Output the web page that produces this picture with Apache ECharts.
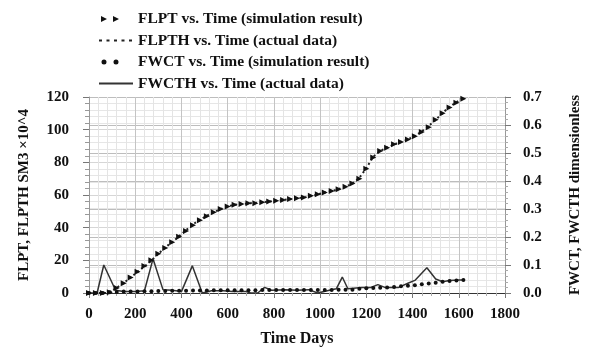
<!DOCTYPE html>
<html>
<head>
<meta charset="utf-8">
<script src="https://cdn.jsdelivr.net/npm/echarts@6/dist/echarts.min.js"></script>
<style>
  html, body { margin: 0; padding: 0; background: #fff; }
  #chart { width: 591px; height: 352px; }
</style>
</head>
<body>
<div id="chart"></div>
<script>
// simulation / actual cumulative liquid production (x10^4 SM3), left axis
const flptDays = [0, 30, 60, 90, 120, 150, 180, 210, 240, 270, 300, 330, 360, 390, 420, 450, 480, 510, 540, 570,
  600, 630, 660, 690, 720, 750, 780, 810, 840, 870, 900, 930, 960, 990, 1020, 1050, 1080, 1110, 1140, 1170,
  1200, 1230, 1260, 1290, 1320, 1350, 1380, 1410, 1440, 1470, 1500, 1530, 1560, 1590, 1620];
const flptValues = [0, 0, 0, 0.5, 3, 6, 9.5, 13, 16.5, 20, 24, 27.5, 31, 34.5, 38, 41.5, 44.5, 47, 49.5, 51.5,
  53, 54, 54.5, 55, 55, 55.5, 56, 56.5, 57, 57.5, 58, 58.5, 59.5, 60.5, 61.5, 62.5, 63.5, 65, 67, 70,
  76, 83, 87, 89, 91, 92.5, 94, 96, 98.5, 101.5, 106, 110, 113.5, 116.5, 119];
const flpthDays = [0, 40, 80, 100, 140, 180, 220, 260, 300, 340, 380, 420, 460, 500, 540, 580, 620, 660, 700, 740,
  780, 820, 860, 900, 940, 980, 1020, 1060, 1100, 1140, 1170, 1200, 1230, 1260, 1300, 1340, 1380, 1420, 1460,
  1500, 1540, 1580, 1620];
const flpthValues = [0, 0, 0, 1.5, 5, 9.5, 14, 18.5, 24, 29, 33.5, 38.5, 43, 46.5, 49.5, 52, 53.8, 54.5, 55, 55.3,
  56, 56.6, 57.3, 58, 58.8, 60, 61.5, 62.8, 64.5, 67, 70.5, 76.5, 83.5, 87, 89.8, 92, 94, 97, 101,
  106, 111.5, 116, 119.5];

// water cut (dimensionless), right axis
const fwctDays = flptDays;
const fwctValues = [0, 0, 0, 0.003, 0.004, 0.005, 0.005, 0.005, 0.006, 0.006, 0.007, 0.007, 0.008, 0.008, 0.008,
  0.009, 0.009, 0.009, 0.01, 0.01, 0.01, 0.01, 0.01, 0.01, 0.01, 0.011, 0.011, 0.011, 0.011, 0.011, 0.011,
  0.011, 0.011, 0.011, 0.011, 0.011, 0.012, 0.012, 0.012, 0.015, 0.017, 0.018, 0.019, 0.02, 0.021, 0.024,
  0.026, 0.028, 0.031, 0.034, 0.037, 0.04, 0.043, 0.045, 0.046];
const fwcthDays = [0, 35, 64, 115, 150, 200, 240, 277, 320, 360, 400, 447, 490, 530, 580, 620, 680, 700, 730, 760,
  790, 850, 900, 950, 990, 1040, 1070, 1096, 1120, 1180, 1220, 1250, 1280, 1340, 1380, 1410, 1462, 1500,
  1530, 1560, 1600, 1620];
const fwcthValues = [0, 0, 0.1, 0.01, 0.005, 0.005, 0.008, 0.122, 0.012, 0.01, 0.005, 0.097, 0, 0.008, 0.008,
  0.005, 0.005, 0, 0, 0.02, 0.01, 0.012, 0.01, 0.012, 0, 0.01, 0.015, 0.057, 0.015, 0.02, 0.02, 0.03, 0.02,
  0.02, 0.035, 0.045, 0.09, 0.05, 0.04, 0.045, 0.046, 0.046];

const serif = "'Liberation Serif', 'DejaVu Serif', serif";
const pairs = (xs, ys) => xs.map((x, i) => [x, ys[i]]);

// legend icons drawn in a 34x8 box (corner points keep the box size)
const box = " M0,0L0,0 M34,8L34,8";
const iconTriangles = "path://M2,1L8,4L2,7Z M14,1L20,4L14,7Z" + box;
const iconDotted = "path://M0,3h3v2h-3Z M7.5,3h3v2h-3Z M15,3h3v2h-3Z M22.5,3h3v2h-3Z M30,3h3v2h-3Z" + box;
const iconDots = "path://M2.5,4a2.5,2.5 0 1,0 5,0a2.5,2.5 0 1,0 -5,0Z M14.5,4a2.5,2.5 0 1,0 5,0a2.5,2.5 0 1,0 -5,0Z" + box;
const iconSolid = "path://M0,3h34v2h-34Z" + box;

const labelFont = { fontFamily: serif, fontWeight: "bold", fontSize: 15, color: "#111" };
const nameFont = { fontFamily: serif, fontWeight: "bold", fontSize: 15, color: "#111" };

const chart = echarts.init(document.getElementById("chart"));
chart.setOption({
  animation: false,
  backgroundColor: "#fff",
  textStyle: { fontFamily: serif },
  legend: {
    orient: "vertical",
    left: 94,
    top: 6,
    itemWidth: 34,
    itemHeight: 8,
    itemGap: 5.5,
    selectedMode: false,
    textStyle: { fontFamily: serif, fontWeight: "bold", fontSize: 15.5, color: "#111" },
    itemStyle: { borderWidth: 0 },
    data: [
      { name: "FLPT vs. Time (simulation result)", icon: iconTriangles },
      { name: "FLPTH vs. Time (actual data)", icon: iconDotted },
      { name: "FWCT vs. Time (simulation result)", icon: iconDots },
      { name: "FWCTH vs. Time (actual data)", icon: iconSolid },
    ],
  },
  grid: { left: 89, right: 81, top: 97, bottom: 58 },
  xAxis: {
    type: "value",
    min: 0,
    max: 1800,
    interval: 200,
    name: "Time Days",
    nameLocation: "middle",
    nameGap: 38,
    nameTextStyle: { ...nameFont, fontSize: 16 },
    axisLine: { show: true, lineStyle: { color: "#333", width: 1 } },
    axisTick: { show: true, length: 5, lineStyle: { color: "#777" } },
    minorTick: { show: true, splitNumber: 5, length: 3, lineStyle: { color: "#aaa" } },
    axisLabel: { ...labelFont, margin: 14, formatter: (v) => String(v) },
    splitLine: { show: true, lineStyle: { color: "#c4c4c4", width: 1 } },
    minorSplitLine: { show: true, lineStyle: { color: "#e4e4e4", width: 1 } },
  },
  yAxis: [
    {
      type: "value",
      min: 0,
      max: 120,
      interval: 20,
      name: "FLPT, FLPTH SM3 \u00d710^4",
      nameLocation: "middle",
      nameRotate: 90,
      nameGap: 57,
      nameTextStyle: nameFont,
      axisLine: { show: true, lineStyle: { color: "#999" } },
      axisTick: { show: true, length: 6, lineStyle: { color: "#777" } },
      minorTick: { show: true, splitNumber: 5, length: 4, lineStyle: { color: "#999" } },
      axisLabel: { ...labelFont, margin: 20 },
      splitLine: { show: true, lineStyle: { color: "#d6d6d6", width: 1 } },
      minorSplitLine: { show: true, lineStyle: { color: "#e6e6e6", width: 1 } },
    },
    {
      type: "value",
      min: 0,
      max: 0.7,
      interval: 0.1,
      position: "right",
      name: "FWCT, FWCTH dimensionless",
      nameLocation: "middle",
      nameRotate: 90,
      nameGap: 63,
      nameTextStyle: nameFont,
      axisLine: { show: true, lineStyle: { color: "#999" } },
      axisTick: { show: true, length: 6, lineStyle: { color: "#777" } },
      minorTick: { show: true, splitNumber: 5, length: 3, lineStyle: { color: "#aaa" } },
      axisLabel: { ...labelFont, margin: 18, formatter: (v) => v.toFixed(1) },
      splitLine: { show: true, lineStyle: { color: "#bdbdbd", width: 1 } },
    },
  ],
  series: [
    {
      name: "FLPTH vs. Time (actual data)",
      type: "line",
      yAxisIndex: 0,
      data: pairs(flpthDays, flpthValues),
      showSymbol: false,
      color: "#222",
      lineStyle: { color: "#222", width: 2, type: [2, 3] },
      z: 3,
    },
    {
      name: "FLPT vs. Time (simulation result)",
      type: "line",
      yAxisIndex: 0,
      data: pairs(flptDays, flptValues),
      symbol: "triangle",
      symbolSize: 6,
      symbolRotate: -90,
      color: "#111",
      itemStyle: { color: "#111" },
      lineStyle: { width: 0, opacity: 0 },
      z: 4,
    },
    {
      name: "FWCTH vs. Time (actual data)",
      type: "line",
      yAxisIndex: 1,
      data: pairs(fwcthDays, fwcthValues),
      showSymbol: false,
      color: "#333",
      lineStyle: { color: "#333", width: 1.5 },
      z: 3,
    },
    {
      name: "FWCT vs. Time (simulation result)",
      type: "line",
      yAxisIndex: 1,
      data: pairs(fwctDays, fwctValues),
      symbol: "circle",
      symbolSize: 4,
      color: "#111",
      itemStyle: { color: "#111" },
      lineStyle: { width: 0, opacity: 0 },
      z: 4,
    },
  ],
});
</script>
</body>
</html>
